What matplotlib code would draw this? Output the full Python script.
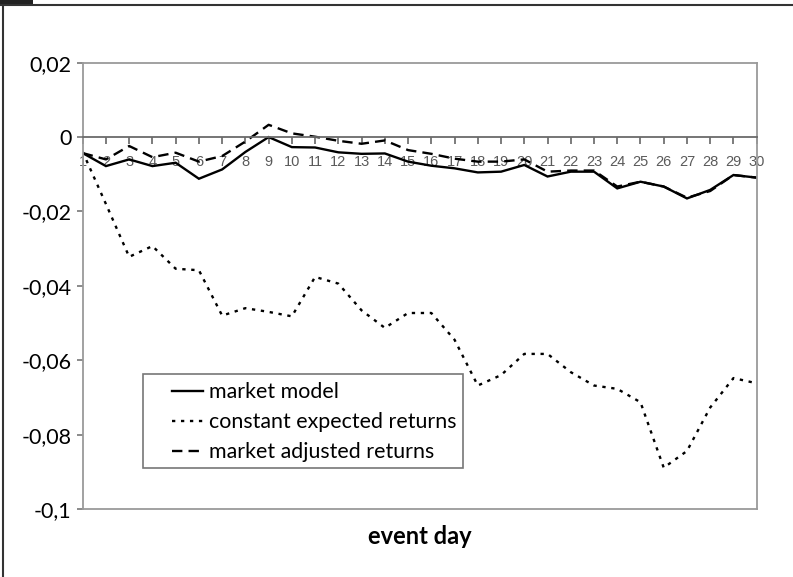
import matplotlib
matplotlib.use("Agg")
import matplotlib.pyplot as plt
from matplotlib.lines import Line2D
from matplotlib.patches import Rectangle

days = list(range(1, 31))
market_model = [-0.0043, -0.0078, -0.0060, -0.0078, -0.0069, -0.0112, -0.0087, -0.0040,
                0.0000, -0.0027, -0.0028, -0.0041, -0.0045, -0.0044, -0.0066, -0.0077,
                -0.0084, -0.0095, -0.0093, -0.0075, -0.0106, -0.0093, -0.0093, -0.0138,
                -0.0120, -0.0133, -0.0165, -0.0142, -0.0102, -0.0109]
constant_expected = [-0.0040, -0.0180, -0.0322, -0.0293, -0.0354, -0.0358, -0.0480, -0.0460,
                     -0.0470, -0.0482, -0.0376, -0.0394, -0.0466, -0.0513, -0.0473, -0.0473,
                     -0.0545, -0.0668, -0.0640, -0.0583, -0.0583, -0.0632, -0.0668, -0.0677,
                     -0.0713, -0.0889, -0.0844, -0.0727, -0.0648, -0.0662]
market_adjusted = [-0.0043, -0.0060, -0.0024, -0.0054, -0.0042, -0.0066, -0.0051, -0.0012,
                   0.0033, 0.0010, 0.0001, -0.0010, -0.0018, -0.0009, -0.0035, -0.0045,
                   -0.0058, -0.0066, -0.0066, -0.0060, -0.0093, -0.0090, -0.0090, -0.0133,
                   -0.0120, -0.0133, -0.0163, -0.0145, -0.0102, -0.0109]
y_ticks = [0.02, 0, -0.02, -0.04, -0.06, -0.08, -0.1]
y_labels = ["0,02", "0", "-0,02", "-0,04", "-0,06", "-0,08", "-0,1"]
series_names = ["market model", "constant expected returns", "market adjusted returns"]

W, H = 793, 577
fig = plt.figure(figsize=(W / 100, H / 100), dpi=100)
ax = fig.add_axes([82.7 / W, 1 - 509 / H, (756.7 - 82.7) / W, (509 - 62.7) / H])

lw = 1.7
l1, = ax.plot(days, market_model, color="black", lw=lw, solid_joinstyle="miter")
l2, = ax.plot(days, constant_expected, color="black", lw=lw, linestyle=(0, (1.4, 2.4)))
l3, = ax.plot(days, market_adjusted, color="black", lw=lw, linestyle=(0, (4.4, 2.6)))

ax.set_xlim(1, 30)
ax.set_ylim(-0.1, 0.02)

border = "#9a9a9a"
for s in ["left", "top", "right"]:
    ax.spines[s].set_color(border)
    ax.spines[s].set_linewidth(1.3)
ax.spines["bottom"].set_position(("data", 0))
ax.spines["bottom"].set_color("#6a6a6a")
ax.spines["bottom"].set_linewidth(1.3)
ax.plot([0, 1], [0, 0], transform=ax.transAxes, color=border, lw=1.3, clip_on=False)

ax.set_yticks(y_ticks)
ax.set_yticklabels(y_labels, fontfamily="Lato", fontsize=15.5)
ax.tick_params(axis="y", direction="out", length=4, width=1.2, color="#777777", pad=4)
ax.set_xticks(days)
ax.set_xticklabels([str(d) for d in days], fontfamily="Liberation Sans", fontsize=10.5,
                   color="#5a5a5a")
ax.tick_params(axis="x", direction="out", length=5, width=1.2, color="#666666", pad=8)

fig.text(419.7 / W, 1 - 536 / H, "event day", ha="center", va="center",
         fontfamily="Lato", fontweight="bold", fontsize=17)

# legend
leg = ax.legend([l1, l2, l3], series_names, frameon=False, prop={"family": "Lato", "size": 15.4},
                loc="upper left", bbox_to_anchor=(172 / W, 1 - 382 / H),
                bbox_transform=fig.transFigure, handlelength=1.45, handletextpad=0.3,
                labelspacing=0.47, borderpad=0, borderaxespad=0)
fig.add_artist(Rectangle((143.3 / W, 1 - 468.3 / H), (463.3 - 143.3) / W, (468.3 - 374) / H,
                         transform=fig.transFigure, fill=False, edgecolor="#777777", lw=1.2))

# page frame
fig.add_artist(Line2D([0, 1], [1 - 5 / H, 1 - 5 / H], transform=fig.transFigure,
                      color="#333333", lw=1.5))
fig.add_artist(Line2D([3 / W, 3 / W], [0, 1 - 5 / H], transform=fig.transFigure,
                      color="#333333", lw=1.5))
fig.add_artist(Rectangle((0, 1 - 6 / H), 33 / W, 6 / H, transform=fig.transFigure,
                         color="#222222", lw=0))

fig.savefig("out.png", dpi=100)
